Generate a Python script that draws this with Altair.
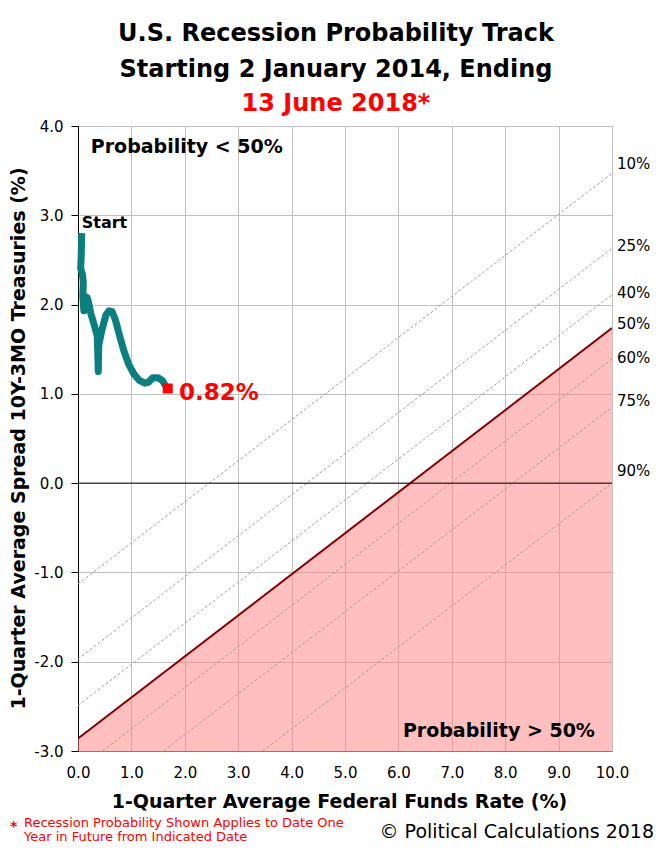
import altair as alt
import pandas as pd

# ---- Track data (1-quarter average Fed Funds rate vs 10Y-3MO spread) ----
fed_funds = [0.07, 0.06, 0.05, 0.08, 0.10, 0.09, 0.11, 0.12, 0.14, 0.17, 0.20, 0.24,
             0.30, 0.36, 0.38, 0.39, 0.45, 0.52, 0.58, 0.64, 0.70, 0.78, 0.86, 0.95,
             1.05, 1.15, 1.25, 1.32, 1.40, 1.50, 1.58, 1.65]
spread = [2.80, 2.55, 2.40, 2.35, 2.25, 2.10, 1.93, 2.10, 2.05, 2.08, 2.02, 1.90,
          1.78, 1.65, 1.25, 1.55, 1.72, 1.88, 1.93, 1.92, 1.83, 1.65, 1.48, 1.33,
          1.22, 1.15, 1.12, 1.13, 1.18, 1.18, 1.15, 1.08]
end_x = [1.68]
end_y = [1.06]

# ---- Probability contour lines ----
levels = ["10%", "25%", "40%", "50%", "60%", "75%", "90%"]
line_x0 = [0.0, 0.0, 0.0, 0.0, 0.46, 1.60, 3.46]
line_y0 = [-1.13, -1.97, -2.49, -2.86, -3.0, -3.0, -3.0]
line_x1 = [10.0, 10.0, 10.0, 10.0, 10.0, 10.0, 10.0]
line_y1 = [3.47, 2.63, 2.11, 1.737, 1.39, 0.85, 0.0]
label_y = [3.57, 2.66, 2.13, 1.78, 1.40, 0.92, 0.135]

x_ticks = [0, 1, 2, 3, 4, 5, 6, 7, 8, 9, 10]
y_ticks = [-3, -2, -1, 0, 1, 2, 3, 4]

FONT = "DejaVu Sans"

track = pd.DataFrame({"x": fed_funds, "y": spread, "idx": list(range(len(fed_funds)))})
end_df = pd.DataFrame({"x": end_x, "y": end_y})

rows = []
for lv, a, b, c, d in zip(levels, line_x0, line_y0, line_x1, line_y1):
    rows.append({"level": lv, "x": a, "y": b})
    rows.append({"level": lv, "x": c, "y": d})
lines = pd.DataFrame(rows)
dashed = lines[lines.level != "50%"]
fifty = lines[lines.level == "50%"]
labels_df = pd.DataFrame({"level": levels, "x": [10.0] * len(levels), "y": label_y})

xscale = alt.Scale(domain=[0, 10], nice=False, zero=False)
yscale = alt.Scale(domain=[-3, 4], nice=False, zero=False)

xaxis = alt.Axis(values=x_ticks, format=".1f", grid=True, gridColor="#C0C0C0",
                 domainColor="#808080", ticks=False, labelPadding=14, labelFlush=False,
                 labelFontSize=15, labelFont=FONT, labelColor="black",
                 title="1-Quarter Average Federal Funds Rate (%)",
                 titleFont=FONT, titleFontSize=19, titleFontWeight="bold",
                 titleColor="black", titleX=261, titleY=50,
                 titleBaseline="middle", titleAlign="center")
yaxis = alt.Axis(values=y_ticks, grid=True, gridColor="#C0C0C0", labelFlush=False,
                 labelExpr="(datum.value < 0 ? '-' : '') + format(abs(datum.value), '.1f')",
                 domainColor="black", tickColor="black", tickSize=7, labelPadding=8,
                 labelFontSize=15, labelFont=FONT, labelColor="black",
                 title="1-Quarter Average Spread 10Y-3MO Treasuries (%)",
                 titleFont=FONT, titleFontSize=19, titleFontWeight="bold",
                 titleColor="black", titleX=-60, titleY=312, titleAngle=-90,
                 titleBaseline="middle", titleAlign="center")


def X(field="x"):
    return alt.X(f"{field}:Q", scale=xscale, axis=xaxis)


def Y(field="y"):
    return alt.Y(f"{field}:Q", scale=yscale, axis=yaxis)


area = alt.Chart(fifty).mark_area(color="#FF7F7F", opacity=0.5, clip=True).encode(
    x=X(), y=Y(), y2=alt.datum(-3)
)

dash_layer = alt.Chart(dashed).mark_line(color="#A0A0A0", strokeWidth=1,
                                         strokeDash=[3, 2], clip=True).encode(
    x=X(), y=Y(), detail="level:N"
)

fifty_layer = alt.Chart(fifty).mark_line(color="#800000", strokeWidth=2, clip=True).encode(
    x=X(), y=Y()
)

zero_rule = alt.Chart(pd.DataFrame({"y": [0]})).mark_rule(color="black", strokeWidth=1).encode(
    y=Y()
)

track_layer = alt.Chart(track).mark_line(color="#0B7F7F", strokeWidth=7,
                                         strokeJoin="round", strokeCap="butt").encode(
    x=X(), y=Y(), order="idx:Q"
)

end_layer = alt.Chart(end_df).mark_square(color="#FF0000", size=100, opacity=1).encode(
    x=X(), y=Y()
)

level_text = alt.Chart(labels_df).mark_text(align="left", baseline="middle", dx=5,
                                            font=FONT, fontSize=15, color="black").encode(
    x=X(), y=Y(), text="level:N"
)

base = alt.Chart(pd.DataFrame({"a": [0]}))

t_lt = base.mark_text(align="left", baseline="middle", font=FONT, fontSize=19,
                      fontWeight="bold", color="black").encode(
    x=alt.datum(0.24, scale=xscale), y=alt.datum(3.76, scale=yscale),
    text=alt.value("Probability < 50%"))
t_gt = base.mark_text(align="right", baseline="middle", font=FONT, fontSize=19,
                      fontWeight="bold", color="black").encode(
    x=alt.datum(9.68, scale=xscale), y=alt.datum(-2.78, scale=yscale),
    text=alt.value("Probability > 50%"))
t_start = base.mark_text(align="left", baseline="middle", font=FONT, fontSize=16,
                         fontWeight="bold", color="black").encode(
    x=alt.datum(0.07, scale=xscale), y=alt.datum(2.91, scale=yscale),
    text=alt.value("Start"))
t_end = base.mark_text(align="left", baseline="middle", font=FONT, fontSize=23,
                       fontWeight="bold", color="#FF0000").encode(
    x=alt.datum(1.89, scale=xscale), y=alt.datum(1.01, scale=yscale),
    text=alt.value("0.82%"))

f_star = base.mark_text(align="left", baseline="middle", font=FONT, fontSize=14,
                        fontWeight="bold", color="#FF0000").encode(
    x=alt.value(-68), y=alt.value(701), text=alt.value("*"))
f_note1 = base.mark_text(align="left", baseline="middle", font=FONT, fontSize=13,
                         color="#FF0000").encode(
    x=alt.value(-54), y=alt.value(697),
    text=alt.value("Recession Probability Shown Applies to Date One"))
f_note2 = base.mark_text(align="left", baseline="middle", font=FONT, fontSize=13,
                         color="#FF0000").encode(
    x=alt.value(-54), y=alt.value(711),
    text=alt.value("Year in Future from Indicated Date"))
f_copy = base.mark_text(align="right", baseline="middle", font=FONT, fontSize=19,
                        color="black").encode(
    x=alt.value(576), y=alt.value(706),
    text=alt.value("© Political Calculations 2018"))

chart = alt.layer(
    area, dash_layer, fifty_layer, zero_rule, track_layer, end_layer,
    level_text, t_lt, t_gt, t_start, t_end, f_star, f_note1, f_note2, f_copy
).properties(
    width=534, height=625,
    autosize=alt.AutoSizeParams(type="none"),
    padding={"left": 70, "top": 118, "right": 42, "bottom": 94},
    background="white",
    title=alt.Title(
        text=["U.S. Recession Probability Track", "Starting 2 January 2014, Ending"],
        subtitle="13 June 2018*",
        font=FONT, fontSize=24, fontWeight="bold", color="black", lineHeight=36,
        subtitleFont=FONT, subtitleFontSize=24, subtitleFontWeight="bold",
        subtitleColor="#FF0000", subtitlePadding=10,
        anchor="middle", dx=-9, offset=3,
    ),
).configure_view(stroke="#808080", strokeWidth=1)

chart.save("out.html", embed_options={"renderer": "svg", "actions": False})
